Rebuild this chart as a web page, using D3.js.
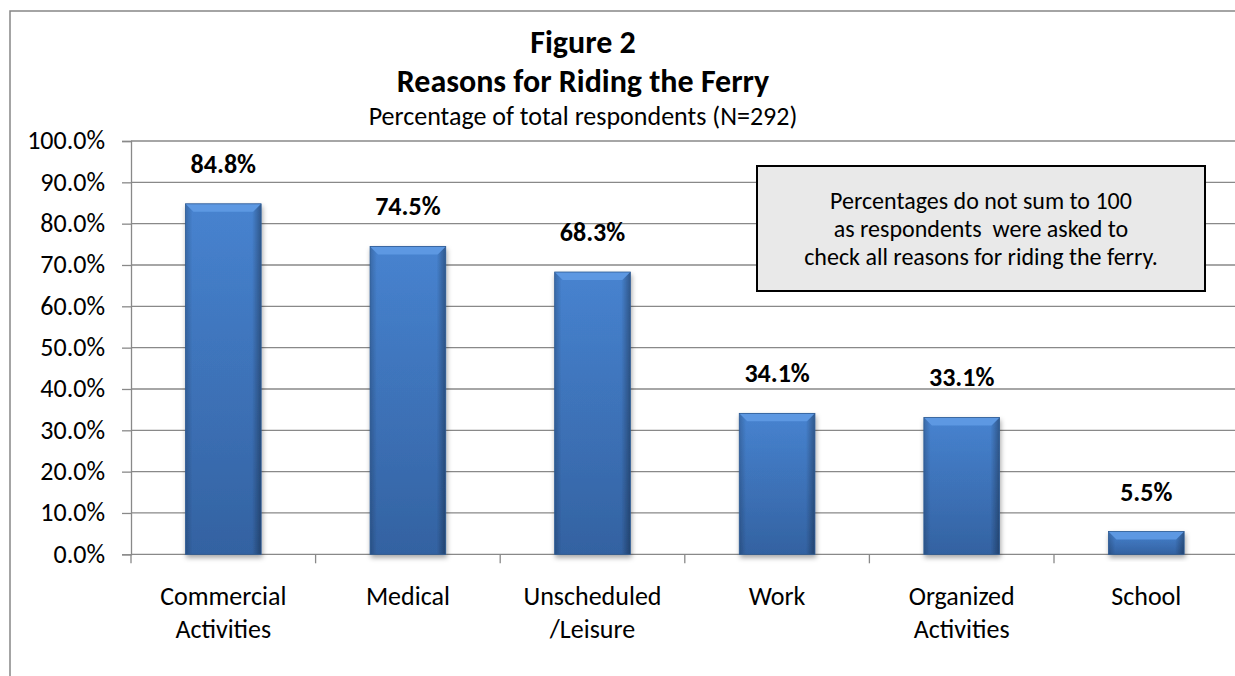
<!DOCTYPE html>
<html>
<head>
<meta charset="utf-8">
<script src="https://cdn.jsdelivr.net/npm/d3@7"></script>
<style>
  body { margin: 0; background: #fff; }
  text { font-family: Carlito, Lato, "Open Sans", sans-serif; fill: #000; }
</style>
</head>
<body>
<svg id="canvas"></svg>
<script>
let categories = [["Commercial", "Activities"], ["Medical"], ["Unscheduled", "/Leisure"], ["Work"], ["Organized", "Activities"], ["School"]];
let values = [84.8, 74.5, 68.3, 34.1, 33.1, 5.5];
let yTicks = [0, 10, 20, 30, 40, 50, 60, 70, 80, 90, 100];
let titleLines = ["Figure 2", "Reasons for Riding the Ferry"];
let subtitle = "Percentage of total respondents (N=292)";
let note = ["Percentages do not sum to 100", "as respondents  were asked to", "check all reasons for riding the ferry."];

let svg = d3.select("#canvas")
  .attr('width', 1235)
  .attr('height', 676);

// outer chart frame
svg.append('rect')
  .attr('x', 10).attr('y', 11)
  .attr('width', 1240).attr('height', 700)
  .attr('fill', 'none')
  .attr('stroke', '#868686')
  .attr('stroke-width', 1.5);

let plotLeft = 131, plotRight = 1238.6, plotTop = 141, plotBottom = 554.3;

let x = d3.scaleBand()
  .domain(d3.range(categories.length))
  .range([plotLeft, plotRight])
  .paddingInner(0.59)
  .paddingOuter(0.295);

let band = d3.scaleBand().domain(d3.range(categories.length)).range([plotLeft, plotRight]);

let y = d3.scaleLinear().domain([0, 100]).range([plotBottom, plotTop]);

let defs = svg.append('defs');
let vgrad = defs.append('linearGradient').attr('id', 'barV')
  .attr('x1', 0).attr('x2', 0).attr('y1', 0).attr('y2', 1);
vgrad.append('stop').attr('offset', '0%').attr('stop-color', '#4a88d8');
vgrad.append('stop').attr('offset', '100%').attr('stop-color', '#3566a8');

let hgrad = defs.append('linearGradient').attr('id', 'barH')
  .attr('x1', 0).attr('x2', 1).attr('y1', 0).attr('y2', 0);
hgrad.append('stop').attr('offset', '0%').attr('stop-color', '#000').attr('stop-opacity', 0.22);
hgrad.append('stop').attr('offset', '9%').attr('stop-color', '#000').attr('stop-opacity', 0.04);
hgrad.append('stop').attr('offset', '88%').attr('stop-color', '#000').attr('stop-opacity', 0.04);
hgrad.append('stop').attr('offset', '100%').attr('stop-color', '#000').attr('stop-opacity', 0.35);

let shadow = defs.append('filter').attr('id', 'shadow')
  .attr('x', '-20%').attr('y', '-20%').attr('width', '150%').attr('height', '150%');
shadow.append('feDropShadow')
  .attr('dx', 1).attr('dy', 3).attr('stdDeviation', 2.5)
  .attr('flood-color', '#000').attr('flood-opacity', 0.35);

// gridlines
svg.append('g')
  .selectAll('line')
  .data(yTicks.slice(1))
  .join('line')
  .attr('x1', plotLeft).attr('x2', 1235)
  .attr('y1', d => y(d)).attr('y2', d => y(d))
  .attr('stroke', '#898989').attr('stroke-width', 1.3);

// y axis
let yAxis = svg.append('g')
  .attr('transform', `translate(${plotLeft},0)`)
  .call(d3.axisLeft(y).tickValues(yTicks).tickSize(9).tickPadding(17)
    .tickFormat(d => d.toFixed(1) + '%'));
yAxis.attr('font-family', null).attr('font-size', null);
yAxis.select('.domain').attr('stroke', '#898989').attr('stroke-width', 1.3);
yAxis.selectAll('.tick line').attr('stroke', '#898989').attr('stroke-width', 1.3);
yAxis.selectAll('.tick text').attr('font-size', 26).attr('dy', '0.3em');

// x axis
let xAxis = svg.append('g')
  .attr('transform', `translate(0,${plotBottom})`);
xAxis.append('line')
  .attr('x1', plotLeft).attr('x2', 1235)
  .attr('y1', 0).attr('y2', 0)
  .attr('stroke', '#898989').attr('stroke-width', 1.3);
xAxis.selectAll('line.tk')
  .data(d3.range(categories.length))
  .join('line')
  .attr('class', 'tk')
  .attr('x1', d => band(d)).attr('x2', d => band(d))
  .attr('y1', 0).attr('y2', 9)
  .attr('stroke', '#898989').attr('stroke-width', 1.3);

xAxis.selectAll('text.cat')
  .data(categories)
  .join('text')
  .attr('class', 'cat')
  .attr('text-anchor', 'middle')
  .attr('font-size', 26)
  .attr('x', (d, i) => band(i) + band.bandwidth() / 2)
  .attr('y', 51)
  .selectAll('tspan')
  .data(d => d)
  .join('tspan')
  .attr('x', function () { return d3.select(this.parentNode).attr('x'); })
  .attr('dy', (d, i) => i === 0 ? 0 : 33)
  .text(d => d);

// bars
let bars = svg.append('g').selectAll('g')
  .data(values)
  .join('g')
  .attr('filter', 'url(#shadow)');

bars.append('rect')
  .attr('x', (d, i) => x(i))
  .attr('y', d => y(d))
  .attr('width', x.bandwidth())
  .attr('height', d => y(0) - y(d))
  .attr('fill', 'url(#barV)');
bars.append('rect')
  .attr('x', (d, i) => x(i))
  .attr('y', d => y(d))
  .attr('width', x.bandwidth())
  .attr('height', d => y(0) - y(d))
  .attr('fill', 'url(#barH)');

// top bevel
let bev = 8;
bars.append('path')
  .attr('d', (d, i) => {
    let x0 = x(i), x1 = x(i) + x.bandwidth(), t = y(d);
    return `M${x0},${t}L${x1},${t}L${x1 - bev},${t + bev}L${x0 + bev},${t + bev}Z`;
  })
  .attr('fill', '#5d98e2');
bars.append('rect')
  .attr('x', (d, i) => x(i))
  .attr('y', d => y(d))
  .attr('width', x.bandwidth())
  .attr('height', d => y(0) - y(d))
  .attr('fill', 'none')
  .attr('stroke', '#2d5a93')
  .attr('stroke-width', 0.8);

// value labels
svg.append('g').selectAll('text')
  .data(values)
  .join('text')
  .attr('x', (d, i) => x(i) + x.bandwidth() / 2)
  .attr('y', d => y(d) - 31)
  .attr('text-anchor', 'middle')
  .attr('font-size', 26)
  .attr('font-weight', 'bold')
  .text(d => d.toFixed(1) + '%');

// titles
svg.append('text')
  .attr('x', 583).attr('y', 53)
  .attr('text-anchor', 'middle')
  .attr('font-size', 32).attr('font-weight', 'bold')
  .text(titleLines[0]);
svg.append('text')
  .attr('x', 583).attr('y', 92)
  .attr('text-anchor', 'middle')
  .attr('font-size', 32).attr('font-weight', 'bold')
  .text(titleLines[1]);
svg.append('text')
  .attr('x', 583).attr('y', 125)
  .attr('text-anchor', 'middle')
  .attr('font-size', 26)
  .text(subtitle);

// note box
svg.append('rect')
  .attr('x', 757).attr('y', 166)
  .attr('width', 448).attr('height', 125)
  .attr('fill', '#e9e9e9')
  .attr('stroke', '#000').attr('stroke-width', 2);
svg.append('g').selectAll('text')
  .data(note)
  .join('text')
  .attr('x', 981)
  .attr('y', (d, i) => 209 + i * 28)
  .attr('text-anchor', 'middle')
  .attr('font-size', 24)
  .style('white-space', 'pre')
  .text(d => d);
</script>
</body>
</html>
